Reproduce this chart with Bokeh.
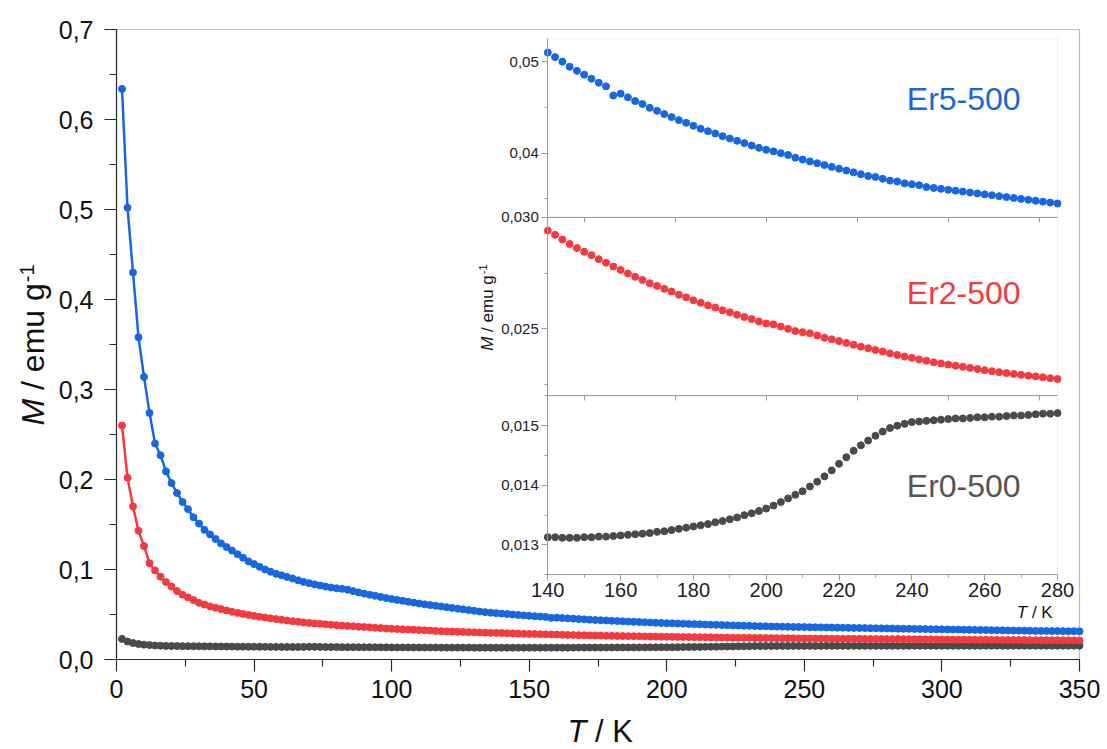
import math
from bokeh.plotting import figure
from bokeh.models import (Range1d, LinearAxis, FixedTicker, CustomJSTickFormatter,
                          BoxAnnotation, Label)
from bokeh.embed import file_html
from bokeh.resources import INLINE

# ---------------- data ----------------
T = list(range(2, 351, 2))  # K, measured every 2 K

er5 = [0.634, 0.502, 0.430, 0.358, 0.314, 0.274, 0.240, 0.227, 0.209, 0.196, 0.185, 0.175, 0.167, 0.158,
       0.151, 0.144, 0.139, 0.134, 0.129, 0.125, 0.121, 0.117, 0.113, 0.109,
       0.106, 0.103, 0.100, 0.0975, 0.0952, 0.0935, 0.0918, 0.0900, 0.0880, 0.0862,
       0.0848, 0.0835, 0.0822, 0.0810, 0.0800, 0.0792, 0.0785, 0.0776, 0.0760, 0.0745,
       0.0732, 0.0720, 0.0708, 0.0695, 0.0683, 0.0672, 0.0662, 0.0652, 0.0642, 0.0632,
       0.0622, 0.0613, 0.0605, 0.0597, 0.0589, 0.0581, 0.0573, 0.0565, 0.0557, 0.0549,
       0.0541, 0.0533, 0.0526, 0.0520, 0.0515,
       0.0510, 0.0505, 0.0500, 0.04945, 0.0490, 0.04858, 0.04814, 0.0477, 0.0473, 0.0463,
       0.0465, 0.0461, 0.0457, 0.04537, 0.04496, 0.04463, 0.04427, 0.04394, 0.04361, 0.04332,
       0.04299, 0.04266, 0.0424, 0.04215, 0.04186, 0.0416, 0.04135, 0.0411, 0.04083, 0.04058,
       0.04036, 0.0402, 0.0400, 0.0398, 0.0395, 0.0393, 0.0391, 0.0389, 0.0387, 0.0385,
       0.0383, 0.0381, 0.0379, 0.0377, 0.0375, 0.0374, 0.0372, 0.0370, 0.0369, 0.0367,
       0.0366, 0.0365, 0.0363, 0.0362, 0.0361, 0.0360, 0.0359, 0.0358, 0.0357, 0.0356,
       0.0355, 0.0354, 0.0353, 0.0352, 0.0351, 0.0350, 0.0349, 0.0348, 0.0347, 0.0346,
       0.0345, 0.0344, 0.0343, 0.0342, 0.0341, 0.0340, 0.0339, 0.0338, 0.0337, 0.0336,
       0.0335, 0.0334, 0.0333, 0.0332, 0.0331, 0.0330, 0.0329, 0.0328, 0.0327, 0.0326,
       0.0325, 0.0324, 0.0323, 0.0322, 0.0321, 0.0320, 0.0319, 0.0318, 0.0318, 0.0317,
       0.0316, 0.0316, 0.0315, 0.0314, 0.0314, 0.0313]

er2 = [0.260, 0.202, 0.170, 0.143, 0.126, 0.107, 0.099, 0.092, 0.086, 0.081, 0.076, 0.072, 0.069, 0.066,
       0.063, 0.061, 0.059, 0.0575, 0.056, 0.0545, 0.053, 0.0518, 0.0506, 0.0495,
       0.0485, 0.0475, 0.0466, 0.0457, 0.0449, 0.0441, 0.0433, 0.0426, 0.0419, 0.0412,
       0.0406, 0.0401, 0.0396, 0.0391, 0.0386, 0.0381, 0.0377, 0.0373, 0.0369, 0.0365,
       0.0361, 0.0357, 0.0353, 0.0349, 0.0345, 0.0342, 0.0339, 0.0336, 0.0333, 0.0330,
       0.0327, 0.0324, 0.0321, 0.0318, 0.0315, 0.0312, 0.0310, 0.0308, 0.0306, 0.0304,
       0.0302, 0.0300, 0.0298, 0.0296, 0.0295,
       0.0294, 0.02921, 0.0290, 0.0288, 0.02862, 0.02845, 0.0283, 0.02812, 0.02796, 0.02779,
       0.02764, 0.02748, 0.02733, 0.02719, 0.02704, 0.02692, 0.02679, 0.02667, 0.02653, 0.02641,
       0.02628, 0.02617, 0.02605, 0.02595, 0.02583, 0.02574, 0.02563, 0.02553, 0.02544, 0.02533,
       0.02524, 0.0252, 0.0251, 0.0250, 0.0249, 0.02485, 0.0248, 0.0247, 0.0246, 0.02453,
       0.02445, 0.02437, 0.02429, 0.0242, 0.02413, 0.02405, 0.02398, 0.0239, 0.02383, 0.02376,
       0.0237, 0.02363, 0.02357, 0.0235, 0.02345, 0.0234, 0.02335, 0.0233, 0.02325, 0.0232,
       0.02315, 0.0231, 0.02306, 0.02302, 0.02298, 0.02294, 0.0229, 0.02287, 0.02283, 0.02279,
       0.02275, 0.0227, 0.0227, 0.0226, 0.0226, 0.0225, 0.0225, 0.0224, 0.0224, 0.0223,
       0.0223, 0.0222, 0.0222, 0.0221, 0.0221, 0.0220, 0.0220, 0.0219, 0.0219, 0.0218,
       0.0218, 0.0217, 0.0217, 0.0217, 0.0216, 0.0216, 0.0215, 0.0215, 0.0215, 0.0214,
       0.0214, 0.0214, 0.0213, 0.0213, 0.0213, 0.0212]

er0 = [0.0229, 0.0200, 0.0183, 0.0172, 0.0165, 0.0160, 0.0156, 0.0153, 0.0151, 0.0150, 0.0149, 0.0148, 0.0148, 0.0147,
       0.0147, 0.0146, 0.0146, 0.0145, 0.0145, 0.0144, 0.0144, 0.0143, 0.0143, 0.0142,
       0.0142, 0.0141, 0.0141, 0.0140, 0.0140, 0.0140, 0.0139, 0.0139, 0.0139, 0.0140,
       0.0141, 0.0141, 0.0140, 0.0139, 0.0138, 0.0138, 0.0137, 0.0137, 0.0137, 0.0136,
       0.0136, 0.0136, 0.0135, 0.0135, 0.0135, 0.0134, 0.0134, 0.0134, 0.0134, 0.0133,
       0.0133, 0.0133, 0.0133, 0.0133, 0.0132, 0.0132, 0.0132, 0.0132, 0.0132, 0.0132,
       0.01315, 0.01315, 0.01314, 0.01314, 0.01313,
       0.01313, 0.01313, 0.01312, 0.01312, 0.01312, 0.01313, 0.01313, 0.01314, 0.01314, 0.01315,
       0.01316, 0.01317, 0.01318, 0.01319, 0.0132, 0.01322, 0.01323, 0.01325, 0.01327, 0.01329,
       0.01331, 0.01333, 0.01335, 0.01338, 0.0134, 0.01343, 0.01346, 0.0135, 0.01353, 0.01357,
       0.01361, 0.01366, 0.01372, 0.01378, 0.01384, 0.0139, 0.01398, 0.01406, 0.01415, 0.01425,
       0.01436, 0.01447, 0.01458, 0.01467, 0.01475, 0.01483, 0.0149, 0.01496, 0.015, 0.01503,
       0.01506, 0.01507, 0.01508, 0.01509, 0.0151, 0.01511, 0.01512, 0.01512, 0.01513, 0.01514,
       0.01514, 0.01515, 0.01515, 0.01516, 0.01517, 0.01517, 0.01518, 0.01519, 0.0152, 0.0152,
       0.01521, 0.01522, 0.01522, 0.01523, 0.01524, 0.01524, 0.01525, 0.01526, 0.01526, 0.01527,
       0.01527, 0.01528, 0.01529, 0.01529, 0.0153, 0.0153, 0.01531, 0.01532, 0.01532, 0.01533,
       0.01533, 0.01534, 0.01534, 0.01535, 0.01535, 0.01536, 0.01536, 0.01537, 0.01537, 0.01538,
       0.01538, 0.01539, 0.01539, 0.0154, 0.0154, 0.01541]

names = ["Er5-500", "Er2-500", "Er0-500"]

# axis limits and tick values
main_x, main_y = (0, 350), (0.0, 0.7)
main_xticks = [0, 50, 100, 150, 200, 250, 300, 350]
main_xminor = [25, 75, 125, 175, 225, 275, 325]
main_yticks = [0.0, 0.1, 0.2, 0.3, 0.4, 0.5, 0.6, 0.7]
main_yminor = [0.05, 0.15, 0.25, 0.35, 0.45, 0.55, 0.65]
inset_T = (140, 280)
inset_xticks = [140, 160, 180, 200, 220, 240, 260, 280]
inset_xminor = [150, 170, 190, 210, 230, 250, 270]
inset_sepminor = [150, 175, 200, 225, 250, 275]
top_lim, top_ticks, top_minor = (0.033, 0.0525), [0.04, 0.05], [0.035, 0.045]
mid_lim, mid_ticks, mid_minor = (0.022, 0.030), [0.025, 0.030], [0.0225, 0.0275]
bot_lim, bot_ticks, bot_minor = (0.0125, 0.0155), [0.013, 0.014, 0.015], [0.0125, 0.0135, 0.0145, 0.0155]

# ---------------- styling / layout ----------------
FONT = "Liberation Sans"
BLUE, RED, GREY = "#1767e0", "#f33a40", "#4a4a4a"
AX = "#2a2a2a"
INAX = "#9c9c9c"

W, H = 1107, 749

def mapped_range(d0, d1, px0, px1, total):
    """Range whose [d0, d1] falls on pixels [px0, px1] of a canvas 'total' px long."""
    s = (px1 - px0) / (d1 - d0)
    start = d0 - px0 / s
    return Range1d(start, start + total / s)

# main plot box: x 116..1079 px from left, y 90..720 px from bottom
p = figure(width=W, height=H, output_backend="svg", toolbar_location=None,
           x_range=mapped_range(main_x[0], main_x[1], 116, 1079, W),
           y_range=mapped_range(main_y[0], main_y[1], 90, 720, H),
           min_border_left=0, min_border_right=0, min_border_top=0, min_border_bottom=0)
p.grid.visible = False
p.outline_line_color = None
p.background_fill_color = "white"
p.border_fill_color = "white"

def style_axis(ax, color, size, tick_out, minor_out, standoff, label_color, lw=1.0):
    ax.axis_line_color = color
    ax.axis_line_width = lw
    ax.major_tick_line_color = color
    ax.minor_tick_line_color = color
    ax.major_tick_line_width = lw
    ax.minor_tick_line_width = lw
    ax.major_tick_in = 0
    ax.minor_tick_in = 0
    ax.major_tick_out = tick_out
    ax.minor_tick_out = minor_out
    ax.major_label_standoff = standoff
    ax.major_label_text_font = FONT
    ax.major_label_text_font_size = size
    ax.major_label_text_color = label_color

# main frame (top / right borders)
p.add_layout(BoxAnnotation(left=main_x[0], right=main_x[1], bottom=main_y[0], top=main_y[1],
                           fill_alpha=0, line_color=AX, line_width=1.2, level="underlay"))

xax = p.xaxis[0]
xax.fixed_location = main_y[0]
xax.bounds = main_x
xax.ticker = FixedTicker(ticks=main_xticks, minor_ticks=main_xminor)
style_axis(xax, AX, "25px", 12, 7, 8, "#111111", 1.2)
yax = p.yaxis[0]
yax.fixed_location = main_x[0]
yax.bounds = main_y
yax.ticker = FixedTicker(ticks=main_yticks, minor_ticks=main_yminor)
yax.formatter = CustomJSTickFormatter(code="return tick.toFixed(1).replace('.', ',')")
style_axis(yax, AX, "25px", 12, 7, 11, "#111111", 1.2)

# main curves
for ys, c in [(er0, GREY), (er2, RED), (er5, BLUE)]:
    p.line(T, ys, line_width=2.5, color=c)
    p.scatter(T, ys, size=7, color=c, marker="circle")

# ---------------- inset (extra ranges placed in the same canvas) ----------------
p.extra_x_ranges = {"inx": mapped_range(inset_T[0], inset_T[1], 547.3, 1057.0, W)}
p.extra_y_ranges = {
    "intop": mapped_range(top_lim[0], top_lim[1], 532.3, 710.7, H),
    "inmid": mapped_range(mid_lim[0], mid_lim[1], 353.7, 532.3, H),
    "inbot": mapped_range(bot_lim[0], bot_lim[1], 174.7, 353.7, H),
}

panels = [("intop", top_lim, top_ticks, top_minor, 2, er5, BLUE),
          ("inmid", mid_lim, mid_ticks, mid_minor, 3, er2, RED),
          ("inbot", bot_lim, bot_ticks, bot_minor, 3, er0, GREY)]

sel = [i for i, t in enumerate(T) if inset_T[0] <= t <= inset_T[1]]
for rname, lim, ticks, minor, digits, ys, c in panels:
    p.add_layout(BoxAnnotation(left=inset_T[0], right=inset_T[1], bottom=lim[0], top=lim[1],
                               x_range_name="inx", y_range_name=rname,
                               fill_color="white", fill_alpha=1.0,
                               line_color="#c6c6c6", line_width=1, level="underlay"))
    p.scatter([T[i] for i in sel], [ys[i] for i in sel], size=7, color=c, marker="circle",
              x_range_name="inx", y_range_name=rname)
    ya = LinearAxis(x_range_name="inx", y_range_name=rname, fixed_location=inset_T[0],
                    bounds=lim, ticker=FixedTicker(ticks=ticks, minor_ticks=minor),
                    formatter=CustomJSTickFormatter(code="return tick.toFixed(%d).replace('.', ',')" % digits))
    style_axis(ya, INAX, "15px", 6, 3, 3, "#222222")
    p.add_layout(ya, "left")
    if rname != "inbot":
        xa = LinearAxis(x_range_name="inx", y_range_name=rname, fixed_location=lim[0],
                        bounds=inset_T, ticker=FixedTicker(ticks=[], minor_ticks=inset_sepminor))
        style_axis(xa, INAX, "15px", 6, 5, 3, "#222222")
        p.add_layout(xa, "below")

xb = LinearAxis(x_range_name="inx", y_range_name="inbot", fixed_location=bot_lim[0],
                bounds=inset_T, ticker=FixedTicker(ticks=inset_xticks, minor_ticks=inset_xminor))
style_axis(xb, INAX, "20px", 6, 3, 2, "#222222")
p.add_layout(xb, "below")

# ---------------- texts ----------------
ADV = {' ': .278, '/': .278, 'M': .833, 'e': .556, 'm': .833, 'u': .556, 'g': .556,
       'T': .611, 'K': .667, '-': .333, '1': .556}
def tw(s, size):
    return sum(ADV[ch] for ch in s) * size

def lab(text, x, y, xo, yo, size, color="#111111", style="normal", rotated=False,
        xr="default", yr="default"):
    # small correction so that the glyph baseline sits where intended
    if rotated:
        xo -= 0.44 * size
    else:
        yo += 0.34 * size
    p.add_layout(Label(x=x, y=y, x_offset=xo, y_offset=yo, text=text,
                       angle=(math.pi / 2 if rotated else 0.0),
                       text_font=FONT, text_font_size="%dpx" % size, text_font_style=style,
                       text_color=color, text_align="left", text_baseline="alphabetic",
                       x_range_name=xr, y_range_name=yr))

# main y label (rotated): "M / emu g^-1"   (anchored at the plot's origin)
ys0 = 234
lab("M", 0, 0, -69, ys0, 32, style="italic", rotated=True)
lab("/ emu g", 0, 0, -69, ys0 + tw("M ", 32), 32, rotated=True)
lab("-1", 0, 0, -81, ys0 + tw("M / emu g", 32) + 1, 20, rotated=True)

# main x label "T / K"
lab("T", 0, 0, 451, -83, 31, style="italic")
lab("/ K", 0, 0, 451 + tw("T ", 31), -83, 31)

# inset x label
lab("T", inset_T[0], bot_lim[0], 469, -43, 17, style="italic", xr="inx", yr="inbot")
lab("/ K", inset_T[0], bot_lim[0], 469 + tw("T ", 17), -43, 17, xr="inx", yr="inbot")

# inset y label
iy0 = 45
lab("M", inset_T[0], mid_lim[0], -53, iy0, 17, style="italic", rotated=True, xr="inx", yr="inmid")
lab("/ emu g", inset_T[0], mid_lim[0], -53, iy0 + tw("M ", 17), 17, rotated=True, xr="inx", yr="inmid")
lab("-1", inset_T[0], mid_lim[0], -60, iy0 + tw("M / emu g", 17) + 1, 11, rotated=True, xr="inx", yr="inmid")

# sample names
lab(names[0], inset_T[0], top_lim[0], 359, 107, 32, color=BLUE, xr="inx", yr="intop")
lab(names[1], inset_T[0], mid_lim[0], 359, 92, 32, color=RED, xr="inx", yr="inmid")
lab(names[2], inset_T[0], bot_lim[0], 359, 78, 32, color="#555555", xr="inx", yr="inbot")

open("out.html", "w").write(file_html(p, INLINE))
